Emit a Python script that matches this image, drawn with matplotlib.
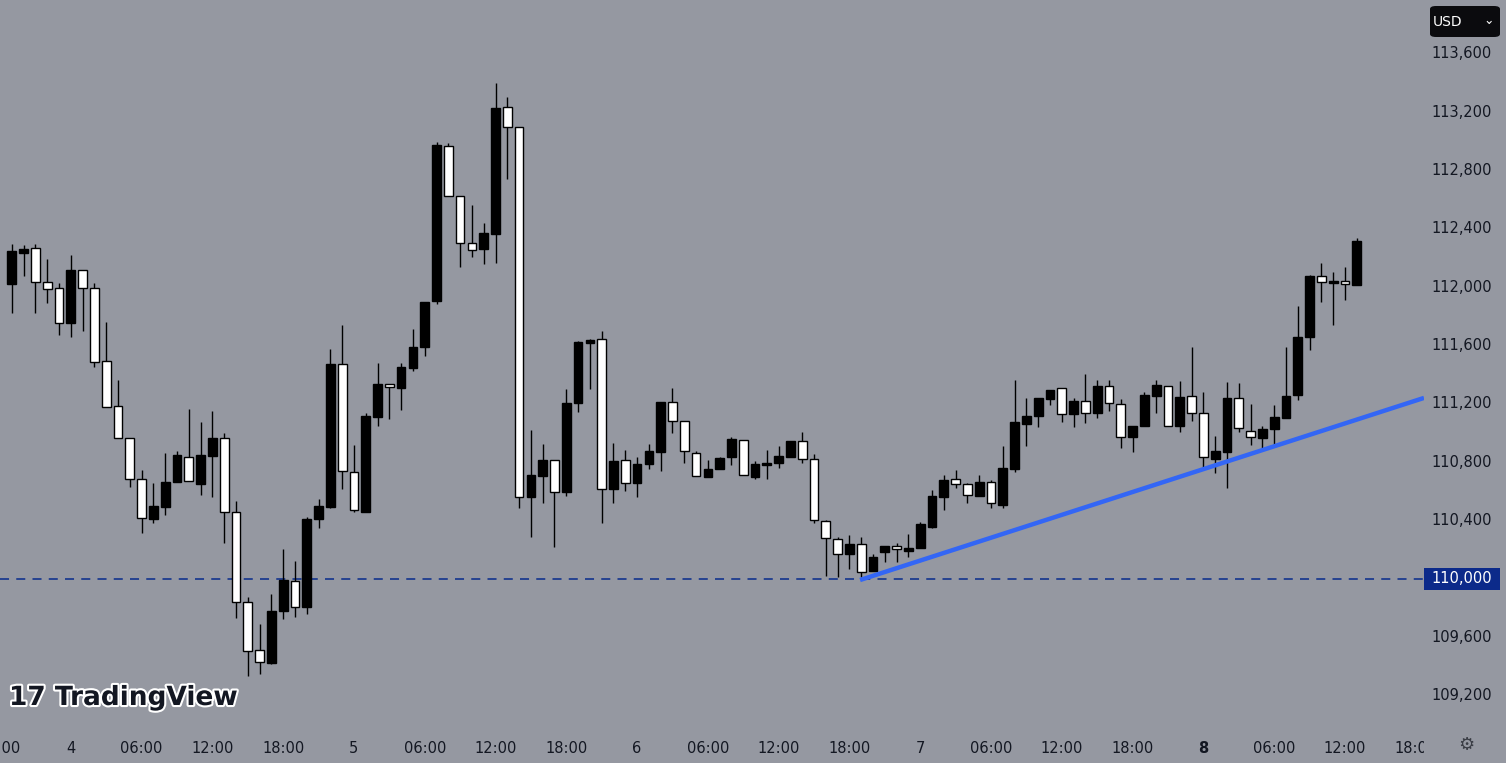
import matplotlib
matplotlib.use("Agg")
import matplotlib.pyplot as plt
import matplotlib.patheffects as pe
import matplotlib.transforms as mtransforms
from matplotlib.patches import Rectangle, FancyBboxPatch
import numpy as np

# hourly candles, starting day 3 19:00
opens = [112022,112234,112269,112036,111995,111755,112118,111995,111494,111186,
         110966,110685,110411,110493,110665,110836,110651,110843,110966,110459,
         109842,109513,109424,109781,109986,109808,110411,110493,111474,110733,
         110459,111110,111337,111309,111446,111590,111905,112968,112625,112303,
         112262,112365,113235,113098,110562,110706,110816,110596,111206,111618,
         111645,110617,110816,110658,110788,110870,111213,111083,110864,110699,
         110754,110836,110953,110699,110781,110795,110836,110946,110822,110398,
         110274,110171,110240,110055,110185,110226,110192,110212,110356,110562,
         110685,110651,110569,110665,110507,110754,111062,111117,111234,111309,
         111131,111220,111138,111323,111199,110973,111049,111254,111323,111049,
         111254,111138,110822,110870,111241,111014,110966,111028,111104,111261,
         111659,112077,112029,112043,112015]
highs = [112296,112289,112296,112193,112029,112221,112118,112029,111761,111364,
         110966,110747,110658,110864,110877,111165,111076,111151,111001,110535,
         109877,109692,109897,110206,110123,110425,110548,111576,111741,110918,
         111138,111480,111337,111480,111714,111899,112995,112988,112625,112563,
         112440,113400,113304,113098,111021,110925,110816,111302,111631,111645,
         111700,110932,110884,110836,110925,111213,111309,111083,110877,110816,
         110836,110973,110953,110809,110884,110912,110946,111008,110857,110404,
         110288,110302,110288,110171,110226,110247,110308,110391,110610,110713,
         110747,110658,110713,110679,110912,111364,111241,111241,111295,111309,
         111241,111405,111364,111364,111234,111049,111282,111364,111323,111357,
         111590,111282,110980,111350,111343,111199,111049,111193,111590,111871,
         112084,112166,112104,112138,112337]
lows = [111823,112077,111823,111892,111672,111659,111700,111453,111179,110966,
        110631,110315,110384,110439,110665,110672,110576,110562,110247,109733,
        109335,109349,109417,109726,109740,109760,110350,110487,110617,110459,
        110459,111049,111097,111158,111426,111528,111885,112625,112138,112207,
        112159,112166,112742,110487,110288,110521,110219,110569,111145,111302,
        110384,110521,110603,110562,110754,110740,111001,110795,110706,110699,
        110754,110781,110713,110685,110685,110761,110836,110795,110384,110021,
        110014,110069,110014,110055,110117,110117,110151,110212,110350,110473,
        110624,110521,110569,110487,110487,110733,110912,111042,111193,111076,
        111042,111069,111104,111151,110898,110870,111049,111138,111049,111008,
        111083,110754,110727,110624,111008,110918,110898,110905,111104,111227,
        111570,111899,111741,111912,112015]
closes = [112248,112262,112036,111988,111755,112118,111995,111487,111179,110966,
          110685,110418,110500,110665,110850,110672,110850,110966,110459,109842,
          109507,109431,109781,109993,109808,110411,110500,111474,110740,110473,
          111117,111337,111316,111453,111590,111899,112975,112625,112303,112255,
          112371,113228,113098,110562,110713,110816,110596,111206,111624,111638,
          110617,110809,110658,110788,110877,111213,111083,110877,110706,110754,
          110829,110960,110713,110788,110781,110843,110946,110822,110404,110281,
          110171,110240,110048,110151,110226,110206,110212,110377,110569,110679,
          110651,110576,110665,110521,110761,111076,111117,111241,111295,111131,
          111220,111138,111323,111206,110973,111049,111261,111330,111049,111247,
          111138,110836,110877,111241,111035,110973,111028,111110,111254,111659,
          112077,112036,112029,112022,112317]

x_ticks = [-1 + 6 * k for k in range(21)]
x_labels = ["18:00", "4", "06:00", "12:00", "18:00", "5", "06:00", "12:00", "18:00",
            "6", "06:00", "12:00", "18:00", "7", "06:00", "12:00", "18:00",
            "8", "06:00", "12:00", "18:00"]
y_ticks = [109200, 109600, 110000, 110400, 110800, 111200, 111600, 112000,
           112400, 112800, 113200, 113600]
level = 110000
trend_x = [71.9, 119.7]
trend_y = [109993, 111241]

BG = "#9598a1"
W, H = 1506, 763
fig = plt.figure(figsize=(W / 100, H / 100), dpi=100, facecolor=BG)
ax = fig.add_axes([0, 33 / H, 1424 / W, 1 - 33 / H], facecolor=BG)
for s in ax.spines.values():
    s.set_visible(False)

idx = np.arange(len(opens))
o = np.array(opens); c = np.array(closes)
up = c >= o
ax.vlines(idx, lows, highs, color="black", lw=1, zorder=2)
bottoms = np.minimum(o, c)
heights = np.maximum(np.abs(c - o), 12)
ax.bar(idx, heights, bottom=bottoms, width=0.74,
       color=np.where(up, "black", "white"), edgecolor="black", lw=1, zorder=3)

ax.axhline(level, color="#1d3b8f", lw=1.3, ls=(0, (5, 4)), zorder=1)
ax.plot(trend_x, trend_y, color="#3366f5", lw=3.2, solid_capstyle="butt", zorder=4)

ax.set_xlim(-0.59, 119.7)
ax.set_ylim(108965, 113968)
ax.set_xticks(x_ticks)
ax.set_xticklabels(x_labels)
for lab in ax.get_xticklabels():
    if lab.get_text() == "8":
        lab.set_fontweight("bold")
ax.tick_params(axis="x", length=0, pad=8, labelsize=10.5, colors="#131722")
ax.set_yticks([])

# cover for price-axis area over clipped time label
fig.patches.append(Rectangle((1424 / W, 0), 82 / W, 1, transform=fig.transFigure,
                             facecolor=BG, edgecolor="none", zorder=5))
tr = mtransforms.blended_transform_factory(fig.transFigure, ax.transData)
for v in y_ticks:
    if v == level:
        continue
    fig.text(1462 / W, v, f"{v:,}", transform=tr, ha="center", va="center",
             fontsize=10.5, color="#131722", zorder=10)
# price label box
fig.patches.append(Rectangle((1424 / W, level), 76 / W, 1, transform=tr,
                             facecolor="none", edgecolor="none", zorder=6))
yl = 1 - 579 / H
fig.patches.append(Rectangle((1424 / W, yl - 11 / H), 76 / W, 22 / H,
                             transform=fig.transFigure, facecolor="#0c2a8a",
                             edgecolor="none", zorder=6))
fig.text(1462 / W, level, f"{level:,}", transform=tr, ha="center", va="center",
         color="white", fontsize=10.5, zorder=7)
# USD box
fig.patches.append(FancyBboxPatch((1430 / W, 1 - 37 / H), 70 / W, 31 / H,
                                  boxstyle="round,pad=0,rounding_size=0.004",
                                  transform=fig.transFigure, facecolor="#0b0b0e",
                                  edgecolor="none", zorder=6))
fig.text(1448 / W, 1 - 22 / H, "USD", ha="center", va="center", color="white",
         fontsize=10, zorder=7)
fig.text(1489 / W, 1 - 21 / H, "⌄", ha="center", va="center", color="white",
         fontsize=9, zorder=7)
# gear icon
fig.text(1466 / W, 1 - 745 / H, "⚙", ha="center", va="center", color="#3a3d45",
         fontsize=13, zorder=7)
# logo
t = fig.text(9 / W, 1 - 698 / H, "17 TradingView", ha="left", va="center",
             fontsize=19, fontweight="heavy", color="#131722", zorder=7)
t.set_path_effects([pe.withStroke(linewidth=3, foreground="white")])
fig.savefig("out.png", dpi=100, facecolor=BG)
